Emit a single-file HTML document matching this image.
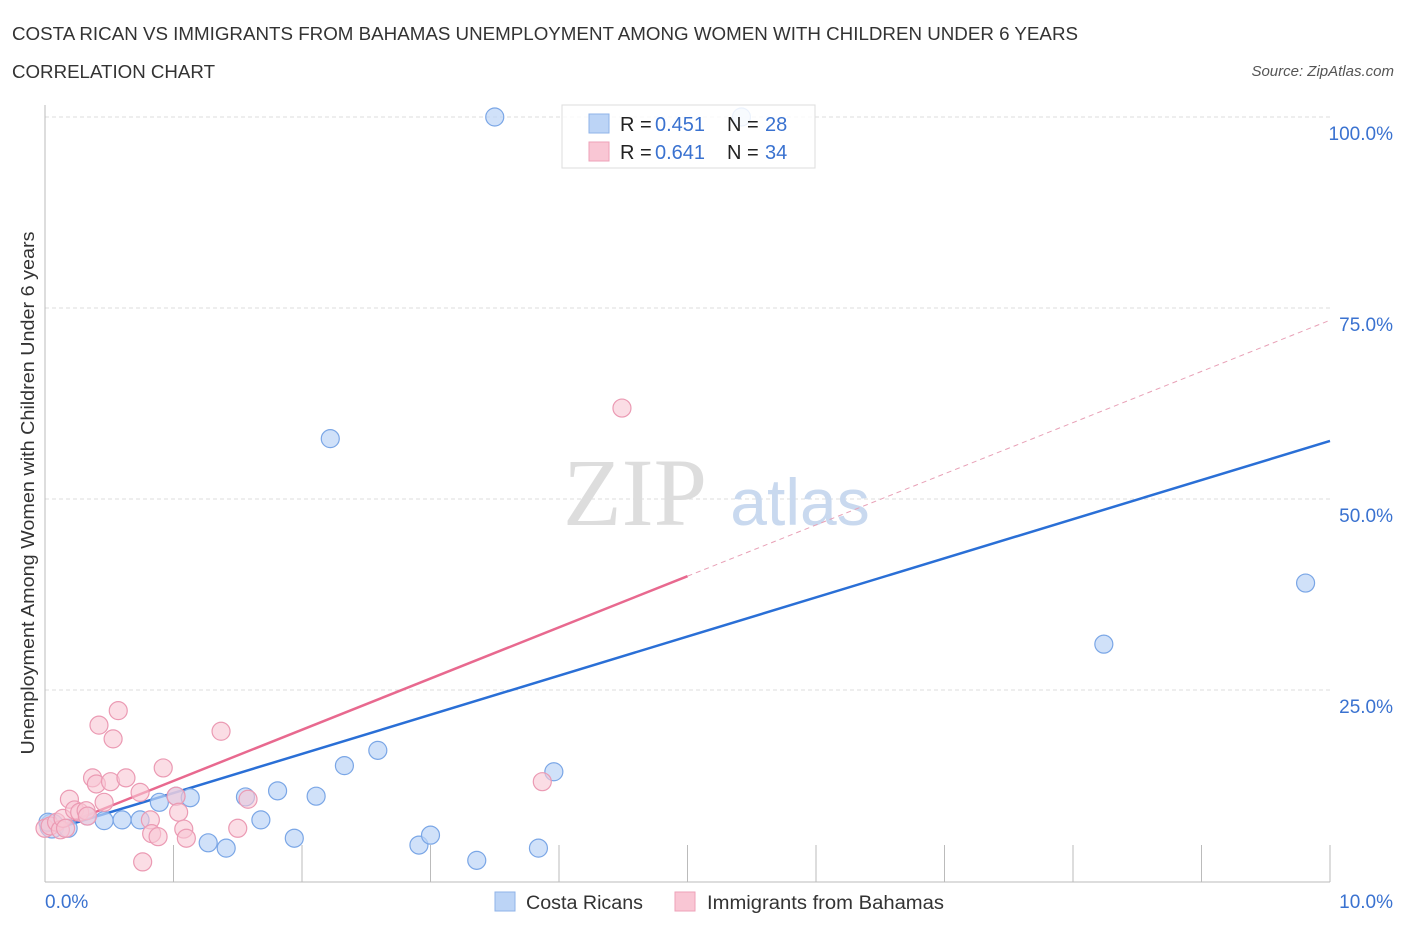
<!DOCTYPE html>
<html><head><meta charset="utf-8"><style>
body{margin:0;background:#fff;font-family:"Liberation Sans",sans-serif;}
svg text{font-family:"Liberation Sans",sans-serif;}
</style></head><body>
<svg id="chart" width="1406" height="930" xmlns="http://www.w3.org/2000/svg">
<text x="12" y="40" font-size="18" fill="#333" textLength="1066" lengthAdjust="spacingAndGlyphs">COSTA RICAN VS IMMIGRANTS FROM BAHAMAS UNEMPLOYMENT AMONG WOMEN WITH CHILDREN UNDER 6 YEARS</text>
<text x="12" y="78" font-size="18" fill="#333" textLength="203" lengthAdjust="spacingAndGlyphs">CORRELATION CHART</text>
<text x="1394" y="76" font-size="15" fill="#555" font-style="italic" text-anchor="end">Source: ZipAtlas.com</text>
<g id="grid"></g>
<g>
<text x="635" y="525" font-size="96" fill="#ddd" text-anchor="middle" style="font-family:'Liberation Serif',serif">ZIP</text>
<text x="800" y="525" font-size="66" fill="#c9d9ef" text-anchor="middle">atlas</text>
</g>
<g id="axes"></g>
<g id="lines"></g>
<g id="points"></g>
<text x="34" y="493" font-size="18" fill="#333" text-anchor="middle" textLength="523" lengthAdjust="spacingAndGlyphs" transform="rotate(-90 34 493)">Unemployment Among Women with Children Under 6 years</text>
<g>
<rect x="562" y="105" width="253" height="63" fill="#fff" fill-opacity="0.85" stroke="#ddd"/>
<rect x="589" y="114" width="20" height="19" fill="#bcd4f6" stroke="#8fb3e8"/>
<rect x="589" y="142" width="20" height="19" fill="#f9c6d4" stroke="#eea2b8"/>
<text x="620" y="131" font-size="20" fill="#222">R =</text><text x="655" y="131" font-size="20" fill="#3a72d0">0.451</text>
<text x="727" y="131" font-size="20" fill="#222">N =</text><text x="765" y="131" font-size="20" fill="#3a72d0">28</text>
<text x="620" y="159" font-size="20" fill="#222">R =</text><text x="655" y="159" font-size="20" fill="#3a72d0">0.641</text>
<text x="727" y="159" font-size="20" fill="#222">N =</text><text x="765" y="159" font-size="20" fill="#3a72d0">34</text>
</g>
<g>
<rect x="495" y="892" width="20" height="19" fill="#bcd4f6" stroke="#8fb3e8"/>
<text x="526" y="909" font-size="19" fill="#333" textLength="117" lengthAdjust="spacingAndGlyphs">Costa Ricans</text>
<rect x="675" y="892" width="20" height="19" fill="#f9c6d4" stroke="#eea2b8"/>
<text x="707" y="909" font-size="19" fill="#333" textLength="237" lengthAdjust="spacingAndGlyphs">Immigrants from Bahamas</text>
</g>
</svg>
<script>
const blueX=[0.054,0.023,0.18,0.33,0.46,0.60,0.74,0.89,1.02,1.13,1.27,1.41,1.56,1.68,1.81,1.94,2.11,2.33,2.59,2.91,3.00,3.36,3.84,3.96,2.22,3.50,5.42,8.24,9.81];
const blueY=[7.2,7.7,6.9,8.5,7.9,8.0,8.0,10.3,11.1,10.9,5.0,4.3,11.0,8.0,11.8,5.6,11.1,15.1,17.1,4.7,6.0,2.7,4.3,14.3,57.9,100,100,31.0,39.0];
const pinkX=[0,0.04,0.09,0.12,0.14,0.16,0.19,0.23,0.27,0.32,0.33,0.37,0.40,0.42,0.46,0.51,0.53,0.57,0.63,0.74,0.76,0.82,0.83,0.88,0.92,1.02,1.04,1.08,1.10,1.37,1.50,1.58,3.87,4.49];
const pinkY=[6.9,7.2,7.7,6.7,8.2,6.9,10.7,9.3,9.0,9.2,8.5,13.5,12.7,20.4,10.3,13.0,18.6,22.3,13.5,11.6,2.5,8.0,6.2,5.8,14.8,11.1,9.0,6.8,5.6,19.6,6.9,10.7,13.0,61.9];
const blueTrend=[6.4,5.12];
const pinkTrend=[6.4,6.7];
const yTicks=[25,50,75,100];
const yTickLabels=["25.0%","50.0%","75.0%","100.0%"];
const xTicks=[0,1,2,3,4,5,6,7,8,9,10];
const NS="http://www.w3.org/2000/svg";
const X=v=>45+v*128.5, Y=v=>881-v*7.64;
function mk(t,a,p){const e=document.createElementNS(NS,t);for(const k in a)e.setAttribute(k,a[k]);p.appendChild(e);return e;}
const grid=document.getElementById('grid'),axes=document.getElementById('axes');
yTicks.forEach((t,i)=>{
 const l=mk('line',{x1:45,x2:1330,y1:Y(t),y2:Y(t),stroke:'#ddd','stroke-dasharray':'4,3'},grid);
 
 
 const tx=mk('text',{x:1393,y:Y(t)+23,'font-size':19,fill:'#3a72d0','text-anchor':'end'},axes);
 tx.textContent=yTickLabels[i];
 
 
});
mk('line',{x1:45,x2:45,y1:105,y2:882,stroke:'#bbb'},axes);
mk('line',{x1:45,x2:1330,y1:882,y2:882,stroke:'#bbb'},axes);
xTicks.forEach(t=>{const l=mk('line',{x1:X(t),x2:X(t),y1:845,y2:882,stroke:'#bbb'},axes);
 
 });
let a=mk('text',{x:45,y:908,'font-size':19,fill:'#3a72d0'},axes);a.textContent='0.0%';


a=mk('text',{x:1393,y:908,'font-size':19,fill:'#3a72d0','text-anchor':'end'},axes);a.textContent='10.0%';


const lines=document.getElementById('lines');
let ln=mk('line',{x1:X(0),y1:Y(blueTrend[0]),x2:X(10),y2:Y(blueTrend[0]+10*blueTrend[1]),stroke:'#2a6fd6','stroke-width':2.5},lines);


ln=mk('line',{x1:X(0),y1:Y(pinkTrend[0]),x2:X(5),y2:Y(pinkTrend[0]+5*pinkTrend[1]),stroke:'#e8698f','stroke-width':2.5},lines);


ln=mk('line',{x1:X(5),y1:Y(pinkTrend[0]+5*pinkTrend[1]),x2:X(10),y2:Y(pinkTrend[0]+10*pinkTrend[1]),stroke:'#e8a0b6','stroke-width':1,'stroke-dasharray':'5,4'},lines);


const pts=document.getElementById('points');
blueX.forEach((x,i)=>{const c=mk('circle',{cx:X(x),cy:Y(blueY[i]),r:i==0?12:9,fill:'#bcd4f6','fill-opacity':0.7,stroke:'#7aa6e6','stroke-width':1.2},pts);
 
 });
pinkX.forEach((x,i)=>{const c=mk('circle',{cx:X(x),cy:Y(pinkY[i]),r:9,fill:'#f9c6d4','fill-opacity':0.6,stroke:'#eb9ab3','stroke-width':1.2},pts);
 
 });
</script>
</body></html>
